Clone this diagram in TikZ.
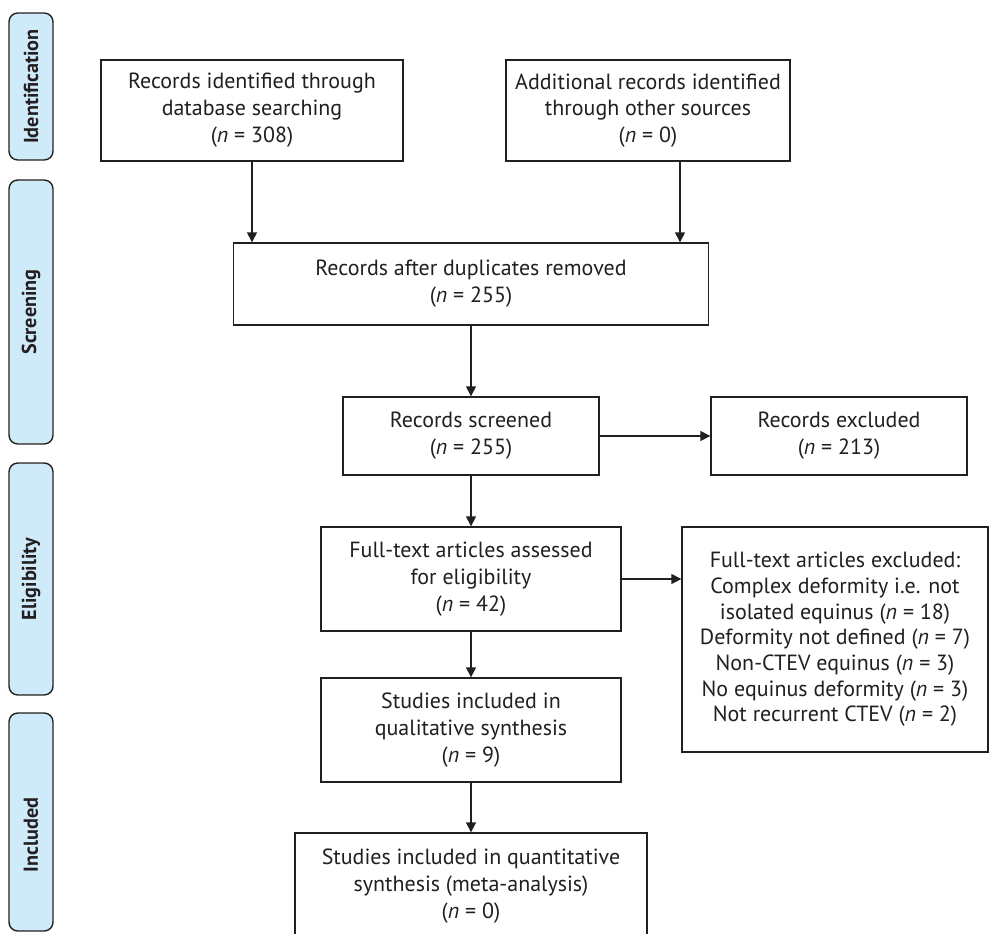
\documentclass[tikz,border=0pt]{standalone}
\usepackage{fontspec}
\setmainfont{PT Sans}
\usetikzlibrary{arrows.meta,calc,positioning}
\definecolor{FlowInk}{HTML}{231F20}
\definecolor{FlowTab}{HTML}{CFEAF8}
\newcommand{\ncount}[1]{(\textit{n} = #1)}
\tikzset{
  every node/.style={font=\fontsize{12.5}{15.3}\selectfont, text=FlowInk, align=center},
  stagebox/.style={draw=FlowInk, line width=0.8pt, fill=white, inner sep=0pt},
  phasetab/.style={draw=FlowInk, line width=0.8pt, fill=FlowTab, rounded corners=5pt, inner sep=0pt, minimum width=0.88cm},
  phaselabel/.style={font=\fontsize{11.5}{14}\selectfont\bfseries, rotate=90},
  flow/.style={-{Triangle[length=2mm,width=2mm]}, draw=FlowInk, line width=0.8pt},
}
\begin{document}
\begin{tikzpicture}[x=0.02cm,y=-0.02cm]
  % one unit = one pixel of the 989 x 933 frame, y runs downwards
  \useasboundingbox (0,0) rectangle (989,933);
  \clip (0,0) rectangle (989,933);
  % phase tabs
  \node[phasetab, minimum height=2.94cm] (tabid) at (31,86.5) {};
  \node[phasetab, minimum height=5.28cm] (tabscr) at (31,312) {};
  \node[phasetab, minimum height=4.64cm] (tabelig) at (31,579) {};
  \node[phasetab, minimum height=4.36cm] (tabinc) at (31,822) {};
  \node[phaselabel] at (tabid) {Identification};
  \node[phaselabel] at (tabscr) {Screening};
  \node[phaselabel] at (tabelig) {Eligibility};
  \node[phaselabel] at (31,835) {Included};
  % boxes
  \node[stagebox, minimum width=6.04cm, minimum height=2.02cm] (dbase) at (252,110.5)
    {Records identified through\\database searching\\\ncount{308}};
  \node[stagebox, minimum width=5.68cm, minimum height=2.02cm] (other) at (648,110.5)
    {Additional records identified\\through other sources\\\ncount{0}};
  \node[stagebox, minimum width=9.50cm, minimum height=1.64cm] (dups) at (471,284)
    {Records after duplicates removed\\\ncount{255}};
  \node[stagebox, minimum width=5.12cm, minimum height=1.56cm] (screened) at (471,436)
    {Records screened\\\ncount{255}};
  \node[stagebox, minimum width=5.12cm, minimum height=1.56cm] (excl) at (839,436)
    {Records excluded\\\ncount{213}};
  \node[stagebox, minimum width=6.00cm, minimum height=2.08cm] (fulltext) at (471,579)
    {Full-text articles assessed\\for eligibility\\\ncount{42}};
  \node[stagebox, minimum width=6.12cm, minimum height=4.50cm,
        font=\fontsize{12.5}{14.6}\selectfont] (ftexcl) at (835,639.5)
    {Full-text articles excluded:\\Complex deformity i.e. not\\isolated equinus \ncount{18}\\
     Deformity not defined \ncount{7}\\Non-CTEV equinus \ncount{3}\\
     No equinus deformity \ncount{3}\\Not recurrent CTEV \ncount{2}};
  \node[stagebox, minimum width=6.00cm, minimum height=2.08cm] (qual) at (471,730)
    {Studies included in\\qualitative synthesis\\\ncount{9}};
  \node[stagebox, minimum width=7.04cm, minimum height=2.12cm] (quant) at (471,886)
    {Studies included in quantitative\\synthesis (meta-analysis)\\\ncount{0}};
  % connectors
  \draw[flow] (dbase.south) -- (dbase.south |- dups.north);
  \draw[flow] ([xshift=0.64cm]other.south) -- ([xshift=0.64cm]other.south |- dups.north);
  \draw[flow] (dups.south) -- (screened.north);
  \draw[flow] (screened.east) -- (excl.west);
  \draw[flow] (screened.south) -- (fulltext.north);
  \draw[flow] (fulltext.east) -- (fulltext.east -| ftexcl.west);
  \draw[flow] (fulltext.south) -- (qual.north);
  \draw[flow] (qual.south) -- (quant.north);
\end{tikzpicture}
\end{document}
